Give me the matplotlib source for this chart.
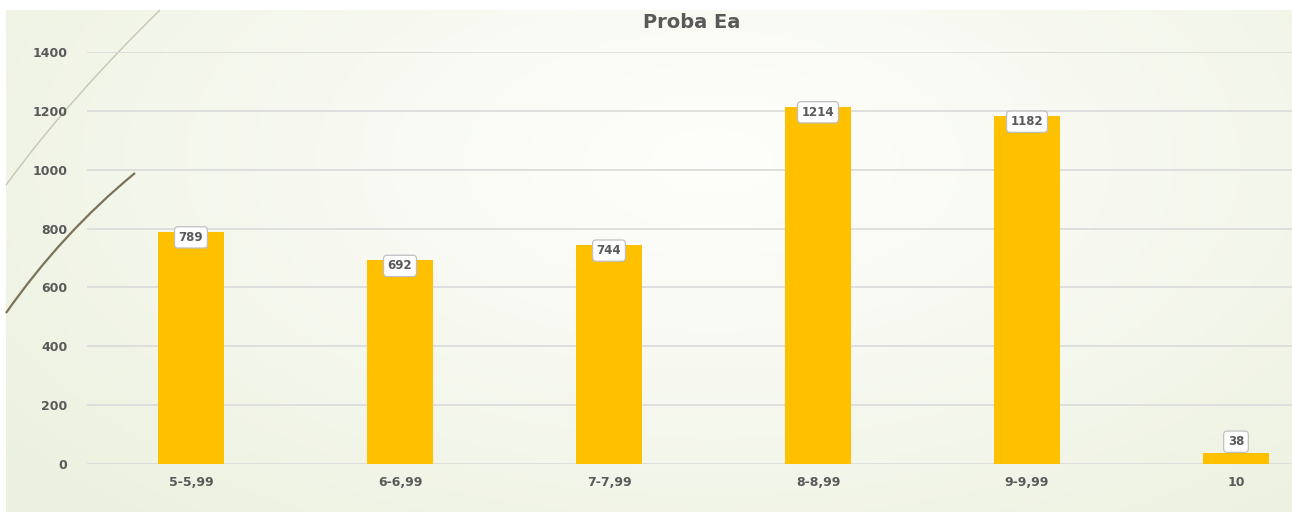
import numpy as np
import matplotlib
matplotlib.use("Agg")
import matplotlib.pyplot as plt
from matplotlib.path import Path
from matplotlib.patches import PathPatch

categories = ["5-5,99", "6-6,99", "7-7,99", "8-8,99", "9-9,99", "10"]
counts = [789, 692, 744, 1214, 1182, 38]
yticks = [0, 200, 400, 600, 800, 1000, 1200, 1400]

W, H = 1292, 515
plt.rcParams['font.family'] = ['DejaVu Sans']

fig = plt.figure(figsize=(W / 100, H / 100), dpi=100)
fig.patch.set_facecolor("white")

# background panel with soft radial gradient
bg = fig.add_axes([0, 0, 1, 1])
bg.set_xlim(0, W)
bg.set_ylim(H, 0)
bg.axis("off")
x0, x1, y0, y1 = 6, 1292, 10, 512
xx, yy = np.meshgrid(np.linspace(0, 1, 300), np.linspace(0, 1, 120))
r = np.sqrt(((xx - 0.55) / 0.7) ** 2 + ((yy - 0.3) / 0.95) ** 2)
r = np.clip(r, 0, 1)
c_in = np.array([0.995, 0.995, 0.985])
c_out = np.array([0.925, 0.945, 0.875])
img = c_in[None, None, :] + (c_out - c_in)[None, None, :] * r[..., None] ** 1.2
bg.imshow(img, extent=[x0, x1, y1, y0], aspect="auto", zorder=0)

# decorative curves on the left (quadratic beziers, pixel coords)
arc1 = Path([(160, 10), (68, 100), (6, 185)], [Path.MOVETO, Path.CURVE3, Path.CURVE3])
arc2 = Path([(135, 173), (62, 233), (6, 313)], [Path.MOVETO, Path.CURVE3, Path.CURVE3])
bg.add_patch(PathPatch(arc1, fc="none", ec="#C9CAB6", lw=1.1, zorder=1))
bg.add_patch(PathPatch(arc2, fc="none", ec="#7A7358", lw=1.6, zorder=1))

# main chart axes, positioned in pixels
left, right, bottom, top = 87, 1292, H - 464, H - 52
ax = fig.add_axes([left / W, bottom / H, (right - left) / W, (top - bottom) / H])
ax.patch.set_alpha(0)
xpos = np.arange(len(categories))
ax.bar(xpos, counts, width=0.32, color="#FFC000", zorder=2)
ax.set_xlim(-0.4976, (right - 191) / 209)
ax.set_ylim(0, 1400)
ax.set_yticks(yticks)
ax.set_xticks(xpos)
ax.set_xticklabels(categories)
ax.grid(axis="y", color="#DCDCDC", lw=1.3, zorder=0)
ax.set_axisbelow(True)
for s in ax.spines.values():
    s.set_visible(False)
ax.tick_params(length=0, labelsize=9, labelcolor="#595959", pad=0)
ax.tick_params(axis="y", pad=14)
ax.tick_params(axis="x", pad=9)
for lab in ax.get_xticklabels() + ax.get_yticklabels():
    lab.set_fontweight("bold")

for xi, v in zip(xpos, counts):
    dy = -4 if v > 100 else 8
    ax.annotate(str(v), (xi, v), xytext=(0, dy), textcoords="offset points",
                ha="center", va="center", fontsize=8.5, fontweight="bold",
                color="#595959", zorder=4,
                bbox=dict(boxstyle="round,pad=0.35,rounding_size=0.3",
                          fc="white", ec="#BFBFBF", lw=0.9))

fig.text(692 / W, 1 - 22 / H, "Proba Ea", ha="center", va="center",
         fontsize=14, fontweight="bold", color="#595959")

fig.savefig("out.png", dpi=100)
